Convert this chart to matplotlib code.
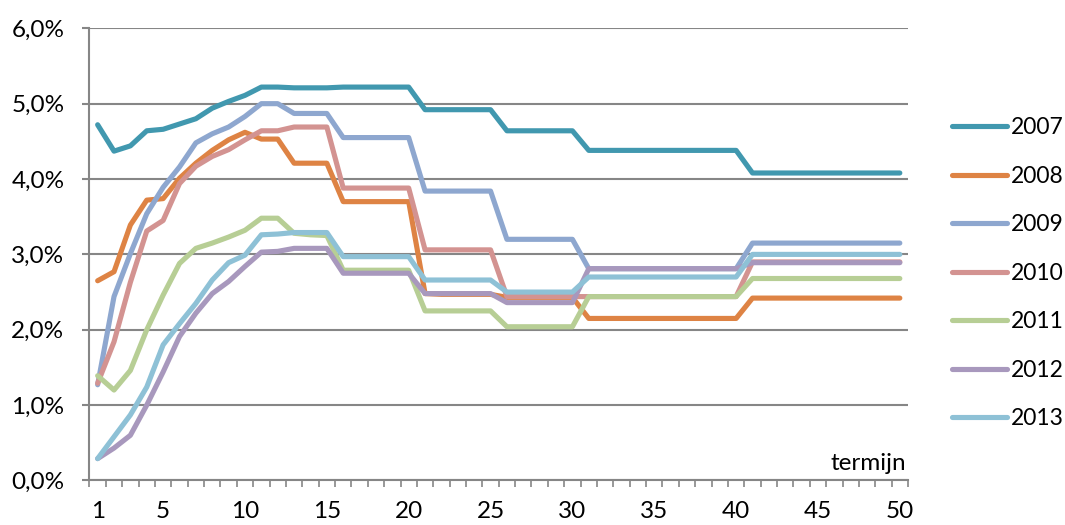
import matplotlib
matplotlib.use("Agg")
from matplotlib import pyplot as plt
from matplotlib.ticker import FuncFormatter, FixedLocator

plt.rcParams['font.family'] = ['Lato', 'DejaVu Sans']

termijn = list(range(1, 51))

r2007 = [4.72, 4.37, 4.44, 4.64, 4.66, 4.73, 4.80, 4.94, 5.03, 5.11,
         5.22, 5.22, 5.21, 5.21, 5.21, 5.22, 5.22, 5.22, 5.22, 5.22,
         4.92, 4.92, 4.92, 4.92, 4.92, 4.64, 4.64, 4.64, 4.64, 4.64,
         4.38, 4.38, 4.38, 4.38, 4.38, 4.38, 4.38, 4.38, 4.38, 4.38,
         4.08, 4.08, 4.08, 4.08, 4.08, 4.08, 4.08, 4.08, 4.08, 4.08]
r2008 = [2.65, 2.77, 3.39, 3.72, 3.74, 4.01, 4.21, 4.38, 4.52, 4.62,
         4.53, 4.53, 4.21, 4.21, 4.21, 3.70, 3.70, 3.70, 3.70, 3.70,
         2.48, 2.47, 2.47, 2.47, 2.47, 2.43, 2.43, 2.43, 2.43, 2.43,
         2.15, 2.15, 2.15, 2.15, 2.15, 2.15, 2.15, 2.15, 2.15, 2.15,
         2.42, 2.42, 2.42, 2.42, 2.42, 2.42, 2.42, 2.42, 2.42, 2.42]
r2009 = [1.27, 2.44, 3.01, 3.54, 3.89, 4.16, 4.48, 4.60, 4.69, 4.83,
         5.00, 5.00, 4.87, 4.87, 4.87, 4.55, 4.55, 4.55, 4.55, 4.55,
         3.84, 3.84, 3.84, 3.84, 3.84, 3.20, 3.20, 3.20, 3.20, 3.20,
         2.81, 2.81, 2.81, 2.81, 2.81, 2.81, 2.81, 2.81, 2.81, 2.81,
         3.15, 3.15, 3.15, 3.15, 3.15, 3.15, 3.15, 3.15, 3.15, 3.15]
r2010 = [1.29, 1.84, 2.63, 3.31, 3.45, 3.94, 4.17, 4.30, 4.39, 4.52,
         4.64, 4.64, 4.69, 4.69, 4.69, 3.88, 3.88, 3.88, 3.88, 3.88,
         3.06, 3.06, 3.06, 3.06, 3.06, 2.44, 2.44, 2.44, 2.44, 2.44,
         2.44, 2.44, 2.44, 2.44, 2.44, 2.44, 2.44, 2.44, 2.44, 2.44,
         2.90, 2.90, 2.90, 2.90, 2.90, 2.90, 2.90, 2.90, 2.90, 2.90]
r2011 = [1.39, 1.20, 1.46, 2.00, 2.46, 2.88, 3.08, 3.15, 3.23, 3.32,
         3.48, 3.48, 3.28, 3.26, 3.25, 2.79, 2.79, 2.79, 2.79, 2.79,
         2.25, 2.25, 2.25, 2.25, 2.25, 2.04, 2.04, 2.04, 2.04, 2.04,
         2.44, 2.44, 2.44, 2.44, 2.44, 2.44, 2.44, 2.44, 2.44, 2.44,
         2.68, 2.68, 2.68, 2.68, 2.68, 2.68, 2.68, 2.68, 2.68, 2.68]
r2012 = [0.29, 0.43, 0.60, 1.00, 1.44, 1.91, 2.22, 2.48, 2.64, 2.84,
         3.03, 3.04, 3.08, 3.08, 3.08, 2.75, 2.75, 2.75, 2.75, 2.75,
         2.48, 2.48, 2.48, 2.48, 2.48, 2.36, 2.36, 2.36, 2.36, 2.36,
         2.81, 2.81, 2.81, 2.81, 2.81, 2.81, 2.81, 2.81, 2.81, 2.81,
         2.89, 2.89, 2.89, 2.89, 2.89, 2.89, 2.89, 2.89, 2.89, 2.89]
r2013 = [0.29, 0.58, 0.87, 1.24, 1.80, 2.08, 2.35, 2.66, 2.89, 2.99,
         3.26, 3.27, 3.29, 3.29, 3.29, 2.97, 2.97, 2.97, 2.97, 2.97,
         2.66, 2.66, 2.66, 2.66, 2.66, 2.50, 2.50, 2.50, 2.50, 2.50,
         2.70, 2.70, 2.70, 2.70, 2.70, 2.70, 2.70, 2.70, 2.70, 2.70,
         3.00, 3.00, 3.00, 3.00, 3.00, 3.00, 3.00, 3.00, 3.00, 3.00]

jaren = ['2007', '2008', '2009', '2010', '2011', '2012', '2013']
reeksen = [r2007, r2008, r2009, r2010, r2011, r2012, r2013]
kleuren = ['#4198AF', '#DE8344', '#8EA7CF', '#D39391', '#B7CE95', '#A898BD', '#8EC1D6']

x_labels = [1, 5, 10, 15, 20, 25, 30, 35, 40, 45, 50]

fig = plt.figure(figsize=(10.65, 5.25), dpi=100)
ax = fig.add_axes([0.084, 0.0848, 0.7686, 0.8613])

for jaar, reeks, kleur in zip(jaren, reeksen, kleuren):
    ax.plot(termijn, reeks, color=kleur, lw=3.7, label=jaar,
            solid_capstyle='round', solid_joinstyle='round')

ax.set_xlim(0.5, 50.5)
ax.set_ylim(0, 6)
ax.set_yticks([0, 1, 2, 3, 4, 5, 6])
ax.yaxis.set_major_formatter(FuncFormatter(lambda v, p: f"{v:.1f}%".replace('.', ',')))
ax.grid(axis='y', color='#868686', lw=1.5)
ax.set_axisbelow(True)

# labels op de categorieen, streepjes ertussen
ax.xaxis.set_major_locator(FixedLocator(x_labels))
ax.xaxis.set_minor_locator(FixedLocator([i + 0.5 for i in range(0, 51)]))
ax.tick_params(axis='x', which='major', length=0, pad=15, labelsize=17.5)
ax.tick_params(axis='x', which='minor', length=5, width=1.2, color='#868686', direction='out')
ax.tick_params(axis='y', length=5, width=1.5, color='#868686', pad=13, labelsize=17.5)

for s in ['top', 'right']:
    ax.spines[s].set_visible(False)
for s in ['left', 'bottom']:
    ax.spines[s].set_color('#868686')
    ax.spines[s].set_linewidth(1.5)

ax.text(50.4, 0.14, 'termijn', ha='right', va='baseline', fontsize=17.5)

fig.legend(loc='upper left', bbox_to_anchor=(0.8854, 0.794), frameon=False,
           fontsize=16.5, handlelength=2.4, handletextpad=0.15, labelspacing=1.2,
           borderaxespad=0)

plt.savefig('out.png', dpi=100)
plt.close()
